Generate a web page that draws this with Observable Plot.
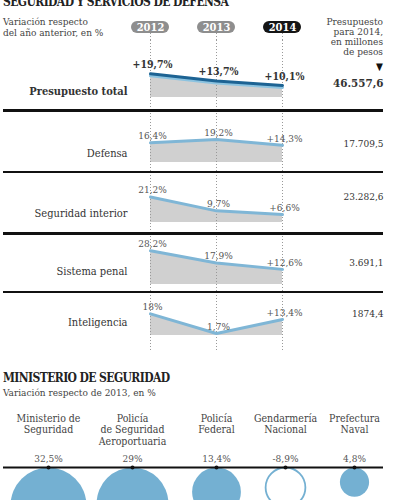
<!DOCTYPE html>
<html><head><meta charset="utf-8">
<script src="https://cdn.jsdelivr.net/npm/d3@7"></script>
<script src="https://cdn.jsdelivr.net/npm/@observablehq/plot@0.6"></script>
<style>
body{margin:0;background:#fff;}
#wrap{position:relative;width:400px;height:500px;overflow:hidden;font-family:"DejaVu Serif Condensed","DejaVu Serif",serif;color:#333;}
.abs{position:absolute;}
.sep{position:absolute;left:3px;width:380px;background:#111;}
</style></head><body><div id="wrap"></div>
<script>
// ---- data ----
const years = ["2012", "2013", "2014"];
const categories = ["Presupuesto total", "Defensa", "Seguridad interior", "Sistema penal", "Inteligencia"];
const totalChange = [19.7, 13.7, 10.1];
const defensaChange = [16.4, 19.2, 14.3];
const seguridadChange = [21.2, 9.7, 6.6];
const penalChange = [28.2, 17.9, 12.6];
const inteligenciaChange = [18, 1.7, 13.4];
const budgets2014 = ["46.557,6", "17.709,5", "23.282,6", "3.691,1", "1874,4"];
const agencies = ["Ministerio de\nSeguridad", "Policía\nde Seguridad\nAeroportuaria", "Policía\nFederal", "Gendarmería\nNacional", "Prefectura\nNaval"];
const agencyChange = [32.5, 29, 13.4, -8.9, 4.8];

const series = [totalChange, defensaChange, seguridadChange, penalChange, inteligenciaChange];
const fmt = v => String(v).replace(".", ",");
const FONT = '"DejaVu Serif Condensed","DejaVu Serif",serif';

// ---- layout (pixels) ----
const rowLayout = [
  {top: 40, h: 70, base: 57, labelDy: 51, budgetDy: 43},
  {top: 110, h: 62, base: 52, labelDy: 43, budgetDy: 33},
  {top: 172, h: 61, base: 50, labelDy: 41, budgetDy: 24},
  {top: 233, h: 59, base: 51, labelDy: 38, budgetDy: 29},
  {top: 292, h: 60, base: 43, labelDy: 30, budgetDy: 21}
];
const separators = [{y: 109, w: 3}, {y: 171, w: 2}, {y: 232, w: 2.5}, {y: 291, w: 2}];
const xScale = {type: "band", domain: years, range: [115.75, 315.25], padding: 0, axis: null};

const wrap = document.getElementById("wrap");
function place(el, top, left) { el.style.position = "absolute"; el.style.top = top + "px"; el.style.left = (left || 0) + "px"; wrap.appendChild(el); return el; }
function html(str, css) { const d = document.createElement("div"); d.className = "abs"; d.innerHTML = str; d.style.cssText += css; wrap.appendChild(d); return d; }

// header texts
html("SEGURIDAD Y SERVICIOS DE DEFENSA", "left:3px;top:-5px;font-weight:bold;font-size:12px;line-height:14px;color:#222;letter-spacing:-0.6px;");
html("Variación respecto<br>del año anterior, en %", "left:3px;top:16px;font-size:10px;line-height:11px;color:#444;");
html("Presupuesto<br>para 2014,<br>en millones<br>de pesos", "right:17px;top:17px;font-size:10px;line-height:10px;text-align:right;color:#444;");
html("▼", "right:17px;top:61px;font-size:10px;color:#111;");

// header plot: year pills
const header = Plot.plot({
  width: 400, height: 40, margin: 0,
  x: xScale,
  style: {fontFamily: FONT, background: "transparent"},
  marks: [
    Plot.ruleX(years, {x: d => d, stroke: "#999", strokeDasharray: "1,2", insetTop: 33}),
    Plot.cell(years, {x: d => d, fill: d => d === "2014" ? "#151515" : "#8e8e8e", insetTop: 21, insetBottom: 7, insetLeft: 14, insetRight: 14, rx: 6}),
    Plot.text(years, {x: d => d, text: d => d, frameAnchor: "top", lineAnchor: "middle", dy: 27, fill: "white", fontWeight: "bold", fontSize: 11})
  ]
});
place(header, 0);

// rows
series.forEach((vals, i) => {
  const L = rowLayout[i];
  const data = years.map((y, j) => ({year: y, value: vals[j], label: (i === 0 || j === 2 ? "+" : "") + fmt(vals[j]) + "%"}));
  const main = i === 0;
  const marks = [
    Plot.areaY(data, {x: "year", y: "value", fill: "#d0d0d0"}),
    Plot.ruleX(years, {x: d => d, stroke: "#999", strokeDasharray: "1,2"})
  ];
  if (main) {
    marks.push(Plot.lineY(data, {x: "year", y: "value", stroke: "#8cc3e0", strokeWidth: 3, dy: 2}));
    marks.push(Plot.lineY(data, {x: "year", y: "value", stroke: "#1d6393", strokeWidth: 3}));
  } else {
    marks.push(Plot.lineY(data, {x: "year", y: "value", stroke: "#7fb6d6", strokeWidth: 3}));
  }
  marks.push(Plot.text(data, {x: "year", y: "value", text: "label", dy: main ? -9 : -7, dx: 2, fontSize: main ? 10.5 : 10, fontWeight: main ? "bold" : "normal", fill: main ? "#333" : "#555"}));
  marks.push(Plot.text([categories[i]], {text: d => d, frameAnchor: "top-left", lineAnchor: "middle", dx: 127, dy: L.labelDy, textAnchor: "end", fontSize: 11, fontWeight: main ? "bold" : "normal", fill: "#333"}));
  marks.push(Plot.text([budgets2014[i]], {text: d => d, frameAnchor: "top-right", lineAnchor: "middle", dx: -17, dy: L.budgetDy, textAnchor: "end", fontSize: main ? 11.5 : 10, fontWeight: main ? "bold" : "normal", fill: "#333"}));
  const p = Plot.plot({
    width: 400, height: L.h, margin: 0,
    x: xScale,
    y: {domain: [0, 40], range: [L.base, L.base - 48], axis: null},
    style: {fontFamily: FONT, background: "transparent", overflow: "visible"},
    marks
  });
  place(p, L.top);
});
separators.forEach(s => { const d = document.createElement("div"); d.className = "sep"; d.style.top = s.y + "px"; d.style.height = s.w + "px"; wrap.appendChild(d); });

// bottom section
html("MINISTERIO DE SEGURIDAD", "left:3px;top:371px;font-weight:bold;font-size:12px;line-height:14px;color:#222;letter-spacing:-0.6px;");
html("Variación respecto de 2013, en %", "left:3px;top:387px;font-size:10px;color:#444;");

const agencyData = agencies.map((name, i) => ({i, name, v: agencyChange[i], a: Math.abs(agencyChange[i])}));
const bubbles = Plot.plot({
  width: 400, height: 100, margin: 0,
  x: {type: "linear", domain: [0, 1, 2, 3, 4], range: [48, 132, 216, 285, 354], axis: null},
  y: {type: "sqrt", domain: [0, 32.5], range: [67, 105], axis: null},
  r: {type: "sqrt", domain: [0, 32.5], range: [0, 38]},
  style: {fontFamily: FONT, background: "transparent", overflow: "visible"},
  marks: [
    Plot.dot(agencyData, {x: "i", y: "a", r: "a", fill: d => d.v < 0 ? "white" : "#74b0d2", stroke: d => d.v < 0 ? "#74b0d2" : "none", strokeWidth: 1.8}),
    Plot.ruleY([0], {stroke: "#111", strokeWidth: 2, insetLeft: 3, insetRight: 17}),
    Plot.dot(agencyData, {x: "i", y: 0, r: 2, fill: "#111"}),
    Plot.text(agencyData, {x: "i", text: d => d.name, frameAnchor: "top", dy: 13, lineAnchor: "top", lineHeight: 1.1, fontSize: 10.5, fill: "#444"}),
    Plot.text(agencyData, {x: "i", text: d => fmt(d.v) + "%", frameAnchor: "top", lineAnchor: "middle", dy: 58, fontSize: 10, fill: "#555"})
  ]
});
place(bubbles, 400);
</script></body></html>
